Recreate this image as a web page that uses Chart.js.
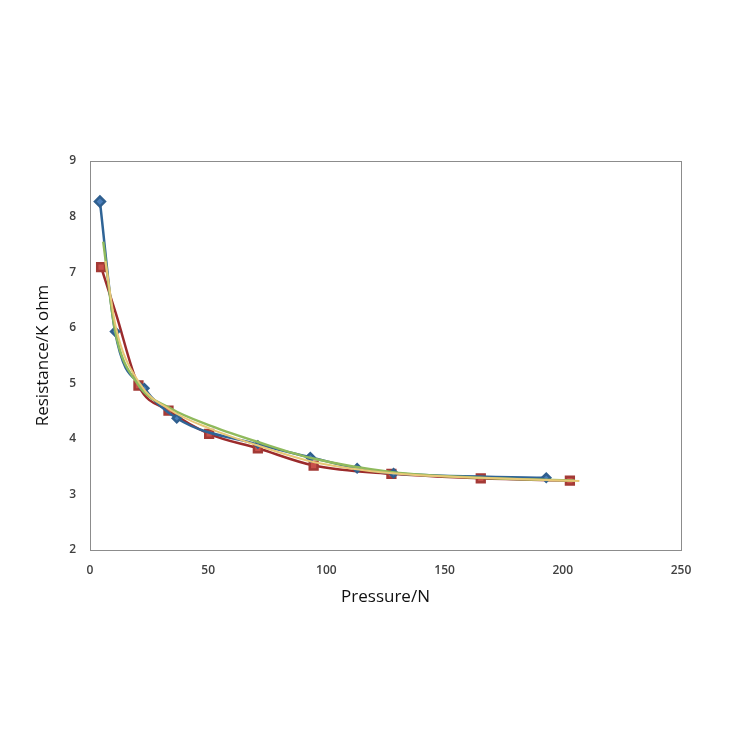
<!DOCTYPE html>
<html>
<head>
<meta charset="utf-8">
<script src="https://cdn.jsdelivr.net/npm/chart.js@4.4.1/dist/chart.umd.min.js"></script>
<style>
  html, body { margin: 0; padding: 0; background: #fff; }
  #wrap { width: 741px; height: 741px; }
</style>
</head>
<body>
<div id="wrap"><canvas id="grafik" width="741" height="741"></canvas></div>
<script>
// data
const bluePressure = [4.2, 10.6, 23, 36.7, 71, 93.2, 113, 128.4, 193];
const blueResist = [8.27, 5.93, 4.91, 4.37, 3.9, 3.67, 3.47, 3.38, 3.30];

const redPressure = [4.7, 11, 20.5, 33.2, 50.4, 71, 94.6, 127.5, 165.3, 203];
const redResist = [7.09, 6.25, 4.96, 4.51, 4.09, 3.83, 3.52, 3.37, 3.29, 3.25];

const greenPressure = [5.6, 10.6, 20, 34, 52, 72, 94, 128, 165, 205];
const greenResist = [7.55, 5.95, 5.0, 4.55, 4.22, 3.93, 3.65, 3.4, 3.3, 3.25];

const yellowPressure = [6.5, 11, 21, 34, 51, 71, 95, 128, 165, 207];
const yellowResist = [7.2, 6.0, 5.0, 4.52, 4.18, 3.88, 3.58, 3.38, 3.3, 3.24];

const xTicks = [0, 50, 100, 150, 200, 250];
const yTicks = [2, 3, 4, 5, 6, 7, 8, 9];

function toPoints(xs, ys) {
    return xs.map((x, i) => ({ x: x, y: ys[i] }));
}

// kotak di sekeliling area plot
const boxPlugin = {
    id: "plotBox",
    afterDraw(chart) {
        const a = chart.chartArea;
        const c = chart.ctx;
        c.save();
        c.strokeStyle = "#8c8c8c";
        c.lineWidth = 1;
        c.strokeRect(a.left + 0.5, a.top + 0.5, a.right - a.left, a.bottom - a.top);
        c.restore();
    }
};

const tickFont = { family: "Open Sans", size: 12, weight: "600" };
const titleFont = { family: "Open Sans", size: 17 };

new Chart(document.getElementById("grafik").getContext("2d"), {
    type: "scatter",
    data: {
        datasets: [
            {
                data: toPoints(bluePressure, blueResist),
                showLine: true,
                borderColor: "#2f6496",
                backgroundColor: "#4a7ebb",
                pointBorderColor: "#2f5f8f",
                pointStyle: "rectRot",
                pointRadius: [5, 4, 4, 4, 3, 4, 4, 4, 4],
                borderWidth: 2.5,
                cubicInterpolationMode: "monotone",
                order: 2
            },
            {
                data: toPoints(redPressure, redResist),
                showLine: true,
                borderColor: "#9b2b2c",
                backgroundColor: "#c8504a",
                pointBorderColor: "#a33a36",
                pointStyle: "rect",
                pointRadius: [5.5, 0, 5.5, 5.5, 5.5, 5.5, 5.5, 5.5, 5.5, 5.5],
                borderWidth: 2.5,
                cubicInterpolationMode: "monotone",
                order: 3
            },
            {
                data: toPoints(greenPressure, greenResist),
                showLine: true,
                borderColor: "#8fba5c",
                backgroundColor: "#8fba5c",
                pointRadius: 0,
                borderWidth: 2.5,
                cubicInterpolationMode: "monotone",
                order: 1
            },
            {
                data: toPoints(yellowPressure, yellowResist),
                showLine: true,
                borderColor: "#e8c877",
                backgroundColor: "#e8c877",
                pointRadius: 0,
                borderWidth: 2,
                cubicInterpolationMode: "monotone",
                order: 0
            }
        ]
    },
    options: {
        responsive: false,
        animation: false,
        layout: { padding: { left: 0, top: 161, right: 60, bottom: 134 } },
        plugins: {
            legend: { display: false },
            tooltip: { enabled: false }
        },
        scales: {
            x: {
                type: "linear",
                min: 0,
                max: 250,
                afterBuildTicks: (s) => { s.ticks = xTicks.map(v => ({ value: v })); },
                afterFit: (s) => { s.height = 57; },
                grid: { display: false, drawTicks: false },
                border: { display: false },
                ticks: { font: tickFont, color: "#404040", padding: 13, maxRotation: 0 },
                title: {
                    display: true,
                    text: "Pressure/N",
                    font: titleFont,
                    color: "#111",
                    padding: { top: 0, bottom: 0 }
                }
            },
            y: {
                type: "linear",
                min: 2,
                max: 9,
                afterBuildTicks: (s) => { s.ticks = yTicks.map(v => ({ value: v })); },
                afterFit: (s) => { s.width = 90; },
                grid: { display: false, drawTicks: false },
                border: { display: false },
                ticks: { font: tickFont, color: "#404040", padding: 14 },
                title: {
                    display: true,
                    text: "Resistance/K ohm",
                    font: titleFont,
                    color: "#111",
                    padding: { top: 33, bottom: 0 }
                }
            }
        }
    },
    plugins: [boxPlugin]
});
</script>
</body>
</html>
